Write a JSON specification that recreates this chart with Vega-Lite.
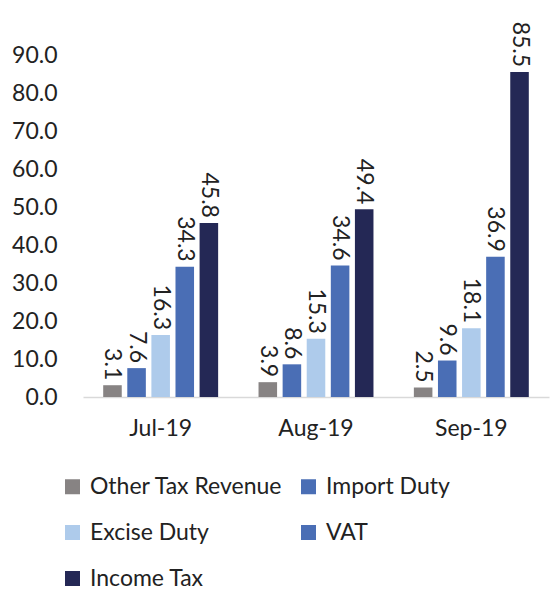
{
  "$schema": "https://vega.github.io/schema/vega-lite/v6.json",
  "autosize": "none",
  "width": 466,
  "height": 342,
  "padding": {"left": 83, "top": 55, "right": 2, "bottom": 193},
  "background": "white",
  "config": {
    "view": {"stroke": null},
    "font": "Lato",
    "text": {"font": "Lato"}
  },
  "data": {
    "values": [
      {"month": "Jul-19", "tax": "Other Tax Revenue", "value": 3.1},
      {"month": "Jul-19", "tax": "Import Duty", "value": 7.6},
      {"month": "Jul-19", "tax": "Excise Duty", "value": 16.3},
      {"month": "Jul-19", "tax": "VAT", "value": 34.3},
      {"month": "Jul-19", "tax": "Income Tax", "value": 45.8},
      {"month": "Aug-19", "tax": "Other Tax Revenue", "value": 3.9},
      {"month": "Aug-19", "tax": "Import Duty", "value": 8.6},
      {"month": "Aug-19", "tax": "Excise Duty", "value": 15.3},
      {"month": "Aug-19", "tax": "VAT", "value": 34.6},
      {"month": "Aug-19", "tax": "Income Tax", "value": 49.4},
      {"month": "Sep-19", "tax": "Other Tax Revenue", "value": 2.5},
      {"month": "Sep-19", "tax": "Import Duty", "value": 9.6},
      {"month": "Sep-19", "tax": "Excise Duty", "value": 18.1},
      {"month": "Sep-19", "tax": "VAT", "value": 36.9},
      {"month": "Sep-19", "tax": "Income Tax", "value": 85.5}
    ]
  },
  "encoding": {
    "x": {
      "field": "month", "type": "nominal", "sort": null,
      "scale": {"paddingInner": 0.26, "paddingOuter": 0.13},
      "axis": {
        "title": null, "labelAngle": 0, "ticks": false,
        "domainColor": "#d9d9d9", "domainWidth": 1.5,
        "labelFont": "Lato", "labelFontSize": 23, "labelColor": "#222222",
        "labelPadding": 20
      }
    },
    "xOffset": {
      "field": "tax", "type": "nominal",
      "sort": ["Other Tax Revenue", "Import Duty", "Excise Duty", "VAT", "Income Tax"],
      "scale": {"paddingInner": 0.23, "paddingOuter": 0}
    },
    "y": {
      "field": "value", "type": "quantitative",
      "scale": {"domain": [0, 90], "nice": false},
      "axis": {
        "title": null, "values": [0, 10, 20, 30, 40, 50, 60, 70, 80, 90],
        "format": ".1f", "grid": false, "domain": false, "ticks": false,
        "labelFont": "Lato", "labelFontSize": 23, "labelColor": "#222222",
        "labelPadding": 26
      }
    }
  },
  "layer": [
    {
      "mark": {"type": "bar"},
      "encoding": {
        "color": {
          "field": "tax", "type": "nominal",
          "sort": ["Other Tax Revenue", "Import Duty", "Excise Duty", "VAT", "Income Tax"],
          "scale": {
            "domain": ["Other Tax Revenue", "Import Duty", "Excise Duty", "VAT", "Income Tax"],
            "range": ["#878383", "#4a6eb5", "#aecbeb", "#4a6eb5", "#242855"]
          },
          "legend": {
            "title": null, "orient": "none", "legendX": -22, "legendY": 420,
            "direction": "horizontal", "columns": 2,
            "symbolType": "square", "symbolSize": 225, "symbolStrokeWidth": 0,
            "labelFont": "Lato", "labelFontSize": 23, "labelColor": "#222222",
            "labelOffset": 6, "rowPadding": 22, "columnPadding": 14,
            "labelLimit": 400
          }
        }
      }
    },
    {
      "mark": {"type": "text", "angle": 90, "align": "right", "baseline": "middle", "dx": -5, "fontSize": 23, "font": "Lato", "color": "#222222"},
      "encoding": {
        "text": {"field": "value", "type": "quantitative", "format": ".1f"}
      }
    }
  ]
}
